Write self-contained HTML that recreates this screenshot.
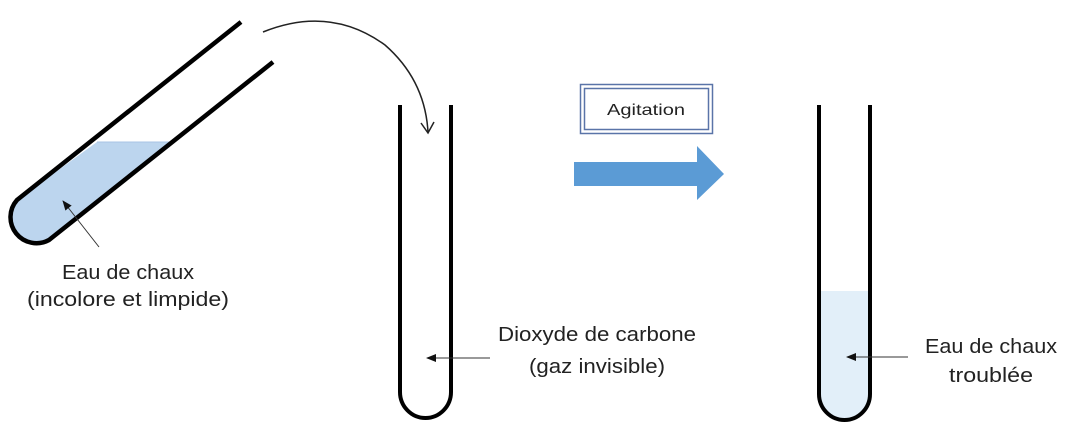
<!DOCTYPE html>
<html><head><meta charset="utf-8"><style>
html,body{margin:0;padding:0;background:#fff;}
svg{display:block;}
text{font-family:"Liberation Sans",sans-serif;fill:#222;}
</style></head><body>
<svg width="1084" height="424" viewBox="0 0 1084 424" xmlns="http://www.w3.org/2000/svg">
<defs>
<marker id="ah" markerWidth="10" markerHeight="8" refX="9" refY="4" orient="auto" markerUnits="userSpaceOnUse">
<path d="M0,0 L10,4 L0,8 Z" fill="#111"/>
</marker>
</defs>
<path d="M97,142 L173,142 L49,240 A26,26 0 0 1 17,200 Z" fill="#bcd5ee"/>
<line x1="97" y1="142" x2="173" y2="142" stroke="#a9c4e4" stroke-width="1"/>
<path d="M241,22 L17,200 A26,26 0 0 0 49,240 L273,62" fill="none" stroke="#000" stroke-width="4.5"/>
<path d="M263,32 Q330,5 385,45 Q425,80 428,132" fill="none" stroke="#222" stroke-width="1.5"/>
<path d="M421,123 L428,133 L434,122" fill="none" stroke="#222" stroke-width="1.5"/>
<line x1="99" y1="247" x2="63" y2="201" stroke="#333" stroke-width="1" marker-end="url(#ah)"/>
<text x="128" y="279" font-size="20" text-anchor="middle" textLength="132" lengthAdjust="spacingAndGlyphs">Eau de chaux</text>
<text x="128" y="306" font-size="20" text-anchor="middle" textLength="202" lengthAdjust="spacingAndGlyphs">(incolore et limpide)</text>
<path d="M400,105 L400,392 A25.5,26 0 0 0 451,392 L451,105" fill="none" stroke="#000" stroke-width="4"/>
<line x1="490" y1="358" x2="427" y2="358" stroke="#333" stroke-width="1" marker-end="url(#ah)"/>
<text x="597" y="341" font-size="20" text-anchor="middle" textLength="198" lengthAdjust="spacingAndGlyphs">Dioxyde de carbone</text>
<text x="597" y="373" font-size="20" text-anchor="middle" textLength="136" lengthAdjust="spacingAndGlyphs">(gaz invisible)</text>
<rect x="580.5" y="84.5" width="132" height="49" fill="#fff" stroke="#5a74a8" stroke-width="1.5"/>
<rect x="584.5" y="88.5" width="124" height="41" fill="#fff" stroke="#5a74a8" stroke-width="1.5"/>
<text x="646" y="115" font-size="16" text-anchor="middle" textLength="78" lengthAdjust="spacingAndGlyphs">Agitation</text>
<path d="M574,162 L697,162 L697,146 L724,174 L697,200 L697,186 L574,186 Z" fill="#5b9bd5"/>
<path d="M819,291 L870,291 L870,394 A25.5,26 0 0 1 819,394 Z" fill="#e2eff9"/>
<path d="M819,105 L819,394 A25.5,26 0 0 0 870,394 L870,105" fill="none" stroke="#000" stroke-width="4"/>
<line x1="908" y1="357" x2="847" y2="357" stroke="#333" stroke-width="1" marker-end="url(#ah)"/>
<text x="991" y="353" font-size="20" text-anchor="middle" textLength="132" lengthAdjust="spacingAndGlyphs">Eau de chaux</text>
<text x="991" y="382" font-size="20" text-anchor="middle" textLength="84" lengthAdjust="spacingAndGlyphs">troublée</text>
</svg>
</body></html>
